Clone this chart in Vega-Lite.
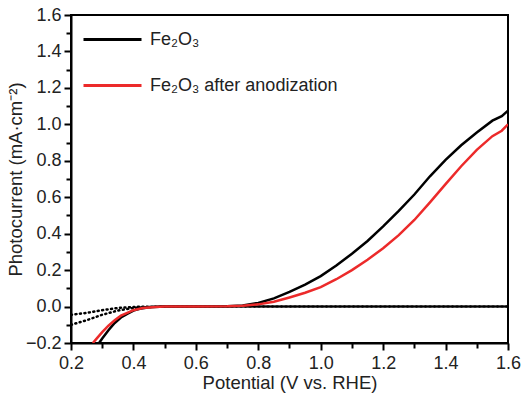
{
  "$schema": "https://vega.github.io/schema/vega-lite/v6.json",
  "width": 437,
  "height": 328,
  "autosize": {"type": "none"},
  "padding": {"left": 71, "top": 15, "right": 17, "bottom": 52},
  "background": "white",
  "config": {
    "font": "Liberation Sans",
    "view": {"stroke": "black", "strokeWidth": 2},
    "axis": {
      "domainColor": "black", "domainWidth": 2, "tickColor": "black", "tickWidth": 2,
      "labelFont": "Liberation Sans", "labelFontSize": 18, "labelColor": "#222",
      "titleFont": "Liberation Sans", "titleFontSize": 18.5, "titleFontWeight": "normal", "titleColor": "#222",
      "grid": false
    }
  },
  "datasets": {
    "light": [
      {"s": "Fe₂O₃", "x": 0.29, "y": -0.2}, {"s": "Fe₂O₃", "x": 0.3, "y": -0.175}, {"s": "Fe₂O₃", "x": 0.32, "y": -0.13},
      {"s": "Fe₂O₃", "x": 0.34, "y": -0.09}, {"s": "Fe₂O₃", "x": 0.36, "y": -0.06}, {"s": "Fe₂O₃", "x": 0.38, "y": -0.04},
      {"s": "Fe₂O₃", "x": 0.4, "y": -0.022}, {"s": "Fe₂O₃", "x": 0.42, "y": -0.012}, {"s": "Fe₂O₃", "x": 0.45, "y": -0.004},
      {"s": "Fe₂O₃", "x": 0.5, "y": 0}, {"s": "Fe₂O₃", "x": 0.6, "y": 0}, {"s": "Fe₂O₃", "x": 0.7, "y": 0.002},
      {"s": "Fe₂O₃", "x": 0.75, "y": 0.006}, {"s": "Fe₂O₃", "x": 0.8, "y": 0.02}, {"s": "Fe₂O₃", "x": 0.85, "y": 0.045},
      {"s": "Fe₂O₃", "x": 0.9, "y": 0.08}, {"s": "Fe₂O₃", "x": 0.95, "y": 0.12}, {"s": "Fe₂O₃", "x": 1.0, "y": 0.167},
      {"s": "Fe₂O₃", "x": 1.05, "y": 0.225}, {"s": "Fe₂O₃", "x": 1.1, "y": 0.29}, {"s": "Fe₂O₃", "x": 1.15, "y": 0.36},
      {"s": "Fe₂O₃", "x": 1.2, "y": 0.44}, {"s": "Fe₂O₃", "x": 1.25, "y": 0.525}, {"s": "Fe₂O₃", "x": 1.3, "y": 0.615},
      {"s": "Fe₂O₃", "x": 1.35, "y": 0.715}, {"s": "Fe₂O₃", "x": 1.4, "y": 0.805}, {"s": "Fe₂O₃", "x": 1.45, "y": 0.885},
      {"s": "Fe₂O₃", "x": 1.5, "y": 0.955}, {"s": "Fe₂O₃", "x": 1.55, "y": 1.02}, {"s": "Fe₂O₃", "x": 1.58, "y": 1.045},
      {"s": "Fe₂O₃", "x": 1.6, "y": 1.075},
      {"s": "Fe₂O₃ after anodization", "x": 0.27, "y": -0.2}, {"s": "Fe₂O₃ after anodization", "x": 0.28, "y": -0.18},
      {"s": "Fe₂O₃ after anodization", "x": 0.3, "y": -0.14}, {"s": "Fe₂O₃ after anodization", "x": 0.32, "y": -0.105},
      {"s": "Fe₂O₃ after anodization", "x": 0.34, "y": -0.075}, {"s": "Fe₂O₃ after anodization", "x": 0.36, "y": -0.05},
      {"s": "Fe₂O₃ after anodization", "x": 0.38, "y": -0.035}, {"s": "Fe₂O₃ after anodization", "x": 0.4, "y": -0.02},
      {"s": "Fe₂O₃ after anodization", "x": 0.43, "y": -0.008}, {"s": "Fe₂O₃ after anodization", "x": 0.47, "y": -0.002},
      {"s": "Fe₂O₃ after anodization", "x": 0.5, "y": 0}, {"s": "Fe₂O₃ after anodization", "x": 0.6, "y": 0},
      {"s": "Fe₂O₃ after anodization", "x": 0.7, "y": 0.002}, {"s": "Fe₂O₃ after anodization", "x": 0.75, "y": 0.005},
      {"s": "Fe₂O₃ after anodization", "x": 0.8, "y": 0.012}, {"s": "Fe₂O₃ after anodization", "x": 0.85, "y": 0.026},
      {"s": "Fe₂O₃ after anodization", "x": 0.9, "y": 0.05}, {"s": "Fe₂O₃ after anodization", "x": 0.95, "y": 0.076},
      {"s": "Fe₂O₃ after anodization", "x": 1.0, "y": 0.107}, {"s": "Fe₂O₃ after anodization", "x": 1.05, "y": 0.15},
      {"s": "Fe₂O₃ after anodization", "x": 1.1, "y": 0.2}, {"s": "Fe₂O₃ after anodization", "x": 1.15, "y": 0.257},
      {"s": "Fe₂O₃ after anodization", "x": 1.2, "y": 0.32}, {"s": "Fe₂O₃ after anodization", "x": 1.25, "y": 0.392},
      {"s": "Fe₂O₃ after anodization", "x": 1.3, "y": 0.475}, {"s": "Fe₂O₃ after anodization", "x": 1.35, "y": 0.572},
      {"s": "Fe₂O₃ after anodization", "x": 1.4, "y": 0.672}, {"s": "Fe₂O₃ after anodization", "x": 1.45, "y": 0.77},
      {"s": "Fe₂O₃ after anodization", "x": 1.5, "y": 0.86}, {"s": "Fe₂O₃ after anodization", "x": 1.55, "y": 0.935},
      {"s": "Fe₂O₃ after anodization", "x": 1.58, "y": 0.965}, {"s": "Fe₂O₃ after anodization", "x": 1.6, "y": 1.0}
    ],
    "dark": [
      {"s": "d1", "x": 0.2, "y": -0.045}, {"s": "d1", "x": 0.25, "y": -0.035}, {"s": "d1", "x": 0.3, "y": -0.02},
      {"s": "d1", "x": 0.35, "y": -0.008}, {"s": "d1", "x": 0.4, "y": -0.002}, {"s": "d1", "x": 0.5, "y": 0},
      {"s": "d1", "x": 1.6, "y": 0},
      {"s": "d2", "x": 0.2, "y": -0.1}, {"s": "d2", "x": 0.25, "y": -0.075}, {"s": "d2", "x": 0.3, "y": -0.045},
      {"s": "d2", "x": 0.35, "y": -0.022}, {"s": "d2", "x": 0.4, "y": -0.008}, {"s": "d2", "x": 0.45, "y": -0.002},
      {"s": "d2", "x": 0.5, "y": 0}, {"s": "d2", "x": 1.6, "y": 0}
    ]
  },
  "encoding": {
    "x": {
      "field": "x", "type": "quantitative",
      "scale": {"domain": [0.2, 1.6], "nice": false, "zero": false},
      "axis": {
        "title": "Potential (V vs. RHE)", "titlePadding": 1,
        "values": [0.2,0.3,0.4,0.5,0.6,0.7,0.8,0.9,1.0,1.1,1.2,1.3,1.4,1.5,1.6],
        "labelExpr": "round(datum.value*10) % 2 == 0 ? format(datum.value, '.1f') : ''",
        "tickSize": {"condition": {"test": "round(datum.value*10) % 2 == 0", "value": 7}, "value": 5},
        "labelPadding": 4, "labelFlush": false, "labelOverlap": false
      }
    },
    "y": {
      "field": "y", "type": "quantitative",
      "scale": {"domain": [-0.2, 1.6], "nice": false, "zero": false},
      "axis": {
        "title": "Photocurrent (mA·cm⁻²)", "titlePadding": 0,
        "values": [-0.2,-0.1,0,0.1,0.2,0.3,0.4,0.5,0.6,0.7,0.8,0.9,1.0,1.1,1.2,1.3,1.4,1.5,1.6],
        "labelExpr": "round(datum.value*10) % 2 == 0 ? format(datum.value, '.1f') : ''",
        "tickSize": {"condition": {"test": "round(datum.value*10) % 2 == 0", "value": 7}, "value": 5},
        "labelPadding": 3, "labelFlush": false, "labelOverlap": false
      }
    }
  },
  "layer": [
    {
      "data": {"name": "dark"},
      "mark": {"type": "line", "color": "black", "strokeWidth": 2.5, "strokeDash": [1, 3.5], "strokeCap": "round", "clip": true},
      "encoding": {"detail": {"field": "s"}}
    },
    {
      "data": {"name": "light"},
      "mark": {"type": "line", "strokeWidth": 2.5, "clip": true},
      "encoding": {
        "color": {
          "field": "s", "type": "nominal",
          "scale": {"domain": ["Fe₂O₃", "Fe₂O₃ after anodization"], "range": ["black", "#ec2a2a"]},
          "legend": {
            "title": null, "orient": "none", "legendX": 11, "legendY": -6,
            "symbolType": "stroke", "symbolSize": 3364, "symbolStrokeWidth": 3,
            "labelFont": "Liberation Sans", "labelFontSize": 18, "labelColor": "#222", "labelLimit": 0,
            "labelOffset": 7, "rowPadding": 6
          }
        }
      }
    }
  ]
}
